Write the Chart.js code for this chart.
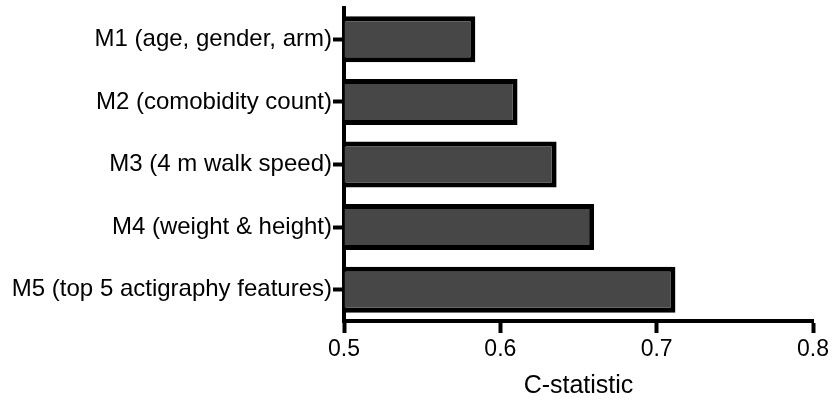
<!DOCTYPE html>
<html lang="en">
<head>
  <meta charset="UTF-8">
  <title>C-statistic by model</title>
  <script src="https://cdn.jsdelivr.net/npm/chart.js"></script>
  <style>
    html, body {
      margin: 0;
      padding: 0;
      background: #fff;
    }
    #wrap {
      width: 832px;
      height: 401px;
    }
  </style>
</head>
<body>
  <div id="wrap"><canvas id="chart" width="832" height="401"></canvas></div>

  <script>
    // model labels and their C-statistic values
    const models = [
      "M1 (age, gender, arm)",
      "M2 (comobidity count)",
      "M3 (4 m walk speed)",
      "M4 (weight & height)",
      "M5 (top 5 actigraphy features)"
    ];
    const cStatistic = [0.584, 0.611, 0.636, 0.660, 0.712];
    const xTicks = [0.5, 0.6, 0.7, 0.8];

    const family = "Arial, 'Liberation Sans', sans-serif";

    new Chart(document.getElementById("chart"), {
      type: "bar",
      data: {
        labels: models,
        datasets: [{
          data: cStatistic,
          base: xTicks[0],
          backgroundColor: "#474747",
          borderColor: "#000",
          borderWidth: 5,
          borderSkipped: "start",
          barPercentage: 0.735,
          categoryPercentage: 1
        }]
      },
      options: {
        indexAxis: "y",
        responsive: false,
        animation: false,
        layout: { padding: { top: 8, right: 19, left: 0, bottom: 0 } },
        plugins: { legend: { display: false }, tooltip: { enabled: false } },
        scales: {
          x: {
            min: xTicks[0],
            max: xTicks[xTicks.length - 1],
            afterBuildTicks: (s) => { s.ticks = xTicks.map((v) => ({ value: v })); },
            afterFit: (s) => { s.height = 80; s.paddingLeft = 0; s.paddingRight = 0; },
            grid: { drawOnChartArea: false, tickLength: 12, tickColor: "#000", tickWidth: 4 },
            border: { color: "#000", width: 4 },
            ticks: { color: "#000", font: { family, size: 23 }, padding: 3, callback: (v) => v.toFixed(1) },
            // title is placed from the bottom edge since the axis height is fixed
            title: { display: true, text: "C-statistic", color: "#000", font: { family, size: 25 }, padding: { top: 0, bottom: 0 } }
          },
          y: {
            afterFit: (s) => { s.width = 344; s.paddingTop = 0; s.paddingBottom = 0; },
            grid: { drawOnChartArea: false, offset: false, tickLength: 11, tickColor: "#000", tickWidth: 4 },
            border: { color: "#000", width: 4 },
            ticks: { color: "#000", font: { family, size: 24 }, padding: 1 }
          }
        }
      }
    });
  </script>
</body>
</html>
